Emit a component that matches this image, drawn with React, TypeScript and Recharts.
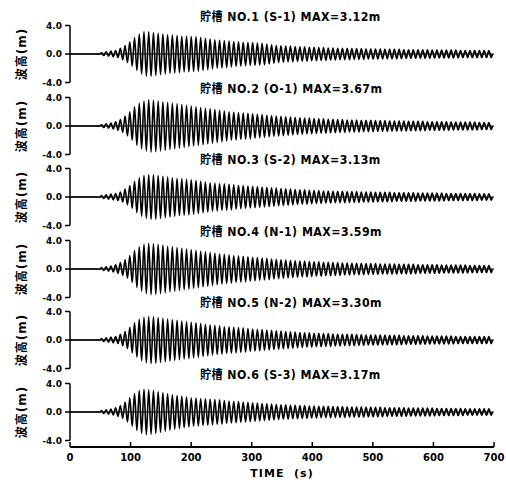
import React from 'react';
import { LineChart, Line, XAxis, YAxis, ReferenceLine } from 'recharts';

// oscillation period (s) and start of the wave train (s)
const PERIOD = 7.8;
const START = 50;

const timeTicks = [0, 100, 200, 300, 400, 500, 600, 700];
const heightTicks = [-4, 0, 4];

// amplitude of each cycle (m), one value per cycle from t = 50 s
const ampS1 = [
  0.2, 0.3, 0.4, 0.5, 0.8, 1.2, 1.7, 2.3, 2.8, 3.1,
  3.12, 3.0, 2.9, 2.8, 2.7, 2.65, 2.6, 2.5, 2.5, 2.45,
  2.4, 2.3, 2.2, 2.1, 2.0, 1.95, 1.9, 1.8, 1.75, 1.7,
  1.65, 1.6, 1.6, 1.55, 1.5, 1.4, 1.3, 1.2, 1.15, 1.1,
  1.1, 1.05, 1.0, 1.0, 0.95, 0.95, 0.9, 0.9, 0.85, 0.85,
  0.8, 0.8, 0.8, 0.75, 0.75, 0.75, 0.7, 0.7, 0.7, 0.7,
  0.65, 0.65, 0.65, 0.65, 0.6, 0.6, 0.6, 0.6, 0.6, 0.6,
  0.55, 0.55, 0.55, 0.55, 0.55, 0.55, 0.5, 0.5, 0.5, 0.5,
  0.5, 0.5, 0.5,
];
const ampO1 = [
  0.2, 0.3, 0.4, 0.6, 0.9, 1.4, 2.0, 2.7, 3.2, 3.5,
  3.67, 3.6, 3.5, 3.4, 3.3, 3.2, 3.1, 3.0, 2.9, 2.8,
  2.7, 2.6, 2.5, 2.4, 2.3, 2.2, 2.1, 2.0, 1.95, 1.9,
  1.85, 1.8, 1.7, 1.65, 1.6, 1.5, 1.45, 1.4, 1.35, 1.3,
  1.25, 1.2, 1.15, 1.1, 1.1, 1.05, 1.0, 1.0, 0.95, 0.95,
  0.9, 0.9, 0.85, 0.85, 0.85, 0.8, 0.8, 0.8, 0.75, 0.75,
  0.75, 0.7, 0.7, 0.7, 0.7, 0.65, 0.65, 0.65, 0.65, 0.6,
  0.6, 0.6, 0.6, 0.6, 0.55, 0.55, 0.55, 0.55, 0.55, 0.55,
  0.5, 0.5, 0.5,
];
const ampS2 = [
  0.2, 0.3, 0.4, 0.5, 0.7, 1.1, 1.6, 2.2, 2.7, 3.0,
  3.13, 3.1, 3.0, 2.9, 2.8, 2.7, 2.6, 2.55, 2.5, 2.4,
  2.3, 2.2, 2.1, 2.0, 1.95, 1.9, 1.85, 1.8, 1.7, 1.65,
  1.6, 1.55, 1.5, 1.45, 1.4, 1.35, 1.3, 1.25, 1.2, 1.15,
  1.1, 1.05, 1.0, 1.0, 0.95, 0.9, 0.9, 0.85, 0.85, 0.8,
  0.8, 0.8, 0.75, 0.75, 0.75, 0.7, 0.7, 0.7, 0.65, 0.65,
  0.65, 0.65, 0.6, 0.6, 0.6, 0.6, 0.6, 0.55, 0.55, 0.55,
  0.55, 0.55, 0.55, 0.5, 0.5, 0.5, 0.5, 0.5, 0.5, 0.5,
  0.45, 0.45, 0.45,
];
const ampN1 = [
  0.2, 0.3, 0.4, 0.6, 0.9, 1.3, 1.9, 2.6, 3.1, 3.45,
  3.59, 3.55, 3.45, 3.35, 3.2, 3.1, 3.0, 2.9, 2.8, 2.7,
  2.6, 2.5, 2.4, 2.3, 2.2, 2.1, 2.05, 2.0, 1.9, 1.85,
  1.8, 1.7, 1.65, 1.6, 1.55, 1.5, 1.4, 1.35, 1.3, 1.25,
  1.2, 1.15, 1.1, 1.1, 1.05, 1.0, 1.0, 0.95, 0.95, 0.9,
  0.9, 0.85, 0.85, 0.8, 0.8, 0.8, 0.75, 0.75, 0.75, 0.7,
  0.7, 0.7, 0.7, 0.65, 0.65, 0.65, 0.65, 0.6, 0.6, 0.6,
  0.6, 0.6, 0.55, 0.55, 0.55, 0.55, 0.55, 0.55, 0.5, 0.5,
  0.5, 0.5, 0.5,
];
const ampN2 = [
  0.2, 0.3, 0.4, 0.5, 0.8, 1.2, 1.8, 2.4, 2.9, 3.2,
  3.3, 3.25, 3.15, 3.05, 2.95, 2.85, 2.75, 2.65, 2.6, 2.5,
  2.4, 2.3, 2.2, 2.1, 2.05, 2.0, 1.9, 1.85, 1.8, 1.75,
  1.7, 1.6, 1.55, 1.5, 1.45, 1.4, 1.35, 1.3, 1.25, 1.2,
  1.15, 1.1, 1.05, 1.0, 1.0, 0.95, 0.95, 0.9, 0.9, 0.85,
  0.85, 0.8, 0.8, 0.8, 0.75, 0.75, 0.7, 0.7, 0.7, 0.7,
  0.65, 0.65, 0.65, 0.65, 0.6, 0.6, 0.6, 0.6, 0.6, 0.55,
  0.55, 0.55, 0.55, 0.55, 0.55, 0.5, 0.5, 0.5, 0.5, 0.5,
  0.5, 0.5, 0.5,
];
const ampS3 = [
  0.2, 0.3, 0.4, 0.6, 0.9, 1.4, 2.0, 2.6, 3.0, 3.17,
  3.1, 3.0, 2.85, 2.7, 2.55, 2.4, 2.3, 2.2, 2.1, 2.0,
  1.95, 1.9, 1.85, 1.8, 1.75, 1.7, 1.6, 1.55, 1.5, 1.45,
  1.4, 1.35, 1.3, 1.25, 1.2, 1.15, 1.1, 1.05, 1.0, 1.0,
  0.95, 0.95, 0.9, 0.9, 0.85, 0.85, 0.8, 0.8, 0.8, 0.75,
  0.75, 0.75, 0.7, 0.7, 0.7, 0.7, 0.65, 0.65, 0.65, 0.65,
  0.6, 0.6, 0.6, 0.6, 0.6, 0.55, 0.55, 0.55, 0.55, 0.55,
  0.55, 0.5, 0.5, 0.5, 0.5, 0.5, 0.5, 0.45, 0.45, 0.45,
  0.45, 0.45, 0.45,
];

const titles = [
  '貯槽 NO.1 (S-1) MAX=3.12m',
  '貯槽 NO.2 (O-1) MAX=3.67m',
  '貯槽 NO.3 (S-2) MAX=3.13m',
  '貯槽 NO.4 (N-1) MAX=3.59m',
  '貯槽 NO.5 (N-2) MAX=3.30m',
  '貯槽 NO.6 (S-3) MAX=3.17m',
];
const amplitudes = [ampS1, ampO1, ampS2, ampN1, ampN2, ampS3];

// crest and trough of every cycle
function buildWave(amps: number[]) {
  const pts: { t: number; v: number }[] = [
    { t: 0, v: 0 },
    { t: START, v: 0 },
  ];
  amps.forEach((a, k) => {
    const t0 = START + k * PERIOD;
    pts.push({ t: t0 + PERIOD / 4, v: a });
    pts.push({ t: t0 + (3 * PERIOD) / 4, v: -a });
  });
  pts.push({ t: START + amps.length * PERIOD, v: 0 });
  return pts;
}

const FIRST_ZERO = 54;
const STEP = 71.6;
const HALF = 36;

const boldFont = "'DejaVu Sans', 'Noto Sans CJK JP', sans-serif";

function Panel({ idx }: { idx: number }) {
  const zero = FIRST_ZERO + idx * STEP;
  const data = buildWave(amplitudes[idx]);
  return (
    <>
      <div style={{ position: 'absolute', left: 0, top: zero - HALF }}>
        <LineChart width={506} height={72} data={data} margin={{ top: 7.5, right: 12, bottom: 7.5, left: 0 }}>
          <XAxis dataKey="t" type="number" domain={[0, 700]} hide />
          <YAxis
            type="number"
            domain={[-4, 4]}
            ticks={heightTicks}
            interval={0}
            width={70}
            tickSize={5}
            tickMargin={3}
            tickFormatter={(v: number) => v.toFixed(1)}
            axisLine={{ stroke: '#000', strokeWidth: 1.5 }}
            tickLine={{ stroke: '#000', strokeWidth: 1.5 }}
            tick={{ fill: '#000', fontSize: 9, fontWeight: 'bold', fontFamily: boldFont }}
          />
          <ReferenceLine y={0} stroke="#000" strokeWidth={1} />
          <Line dataKey="v" type="monotone" dot={false} stroke="#000" strokeWidth={1.6} isAnimationActive={false} />
        </LineChart>
      </div>
      <div
        style={{
          position: 'absolute',
          left: 200,
          top: zero - 44,
          fontFamily: boldFont,
          fontWeight: 'bold',
          fontSize: 12,
          letterSpacing: 0.5,
          whiteSpace: 'pre',
          color: '#000',
          lineHeight: '14px',
          transform: 'scaleX(0.92)',
          transformOrigin: 'left center',
        }}
      >
        {titles[idx]}
      </div>
      <div
        style={{
          position: 'absolute',
          left: 22,
          top: zero,
          transform: 'translate(-50%, -50%) rotate(-90deg)',
          fontFamily: boldFont,
          fontWeight: 'bold',
          fontSize: 12,
          letterSpacing: 1,
          whiteSpace: 'pre',
          color: '#000',
          lineHeight: '14px',
        }}
      >
        波高(m)
      </div>
    </>
  );
}

const TimeTick = (props: any) => {
  const { x, y, payload } = props;
  return (
    <g>
      <line x1={x} x2={x} y1={y} y2={y - 5} stroke="#000" strokeWidth={1.5} />
      <text x={x} y={y + 14} textAnchor="middle" fill="#000" fontSize={10} fontWeight="bold" fontFamily={boldFont}>
        {payload.value}
      </text>
    </g>
  );
};

export default function App() {
  return (
    <div style={{ position: 'absolute', left: 0, top: 0, width: 506, height: 480, background: '#fff', overflow: 'hidden' }}>
      {titles.map((_, i) => (
        <Panel key={i} idx={i} />
      ))}
      <div style={{ position: 'absolute', left: 0, top: 440 }}>
        <LineChart width={506} height={40} data={[{ t: 0 }, { t: 700 }]} margin={{ top: 0, right: 12, bottom: 0, left: 70 }}>
          <XAxis
            dataKey="t"
            type="number"
            domain={[0, 700]}
            ticks={timeTicks}
            interval={0}
            height={33}
            tickSize={0}
            tickMargin={0}
            tickLine={false}
            axisLine={{ stroke: '#000', strokeWidth: 2 }}
            tick={<TimeTick />}
          />
        </LineChart>
      </div>
      <div
        style={{
          position: 'absolute',
          left: 282,
          top: 473,
          transform: 'translate(-50%, -50%)',
          fontFamily: boldFont,
          fontWeight: 'bold',
          fontSize: 11,
          letterSpacing: 1,
          whiteSpace: 'pre',
          color: '#000',
        }}
      >
        TIME  (s)
      </div>
    </div>
  );
}
